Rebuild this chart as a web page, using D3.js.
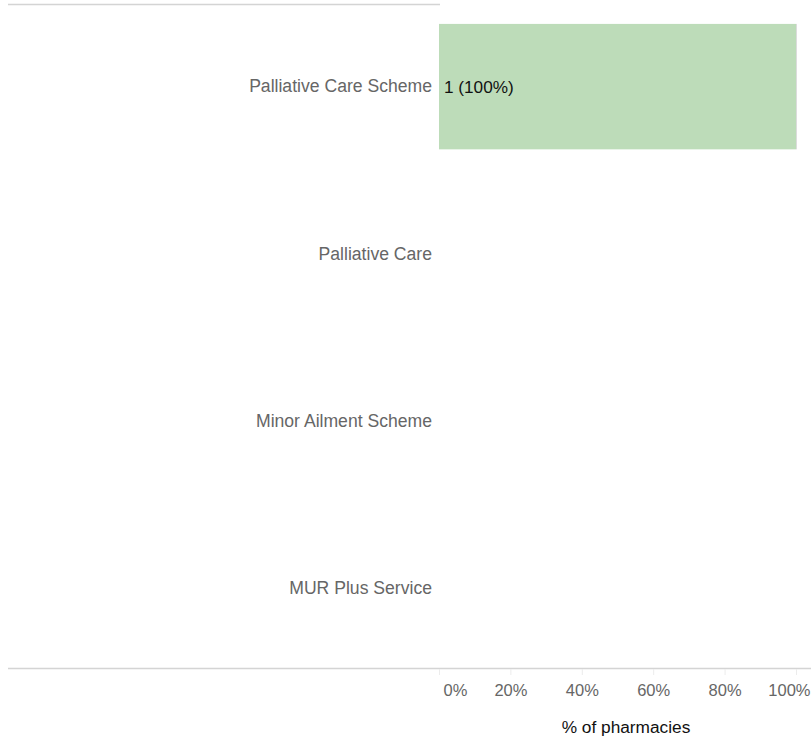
<!DOCTYPE html>
<html>
<head>
<meta charset="utf-8">
<script src="https://cdn.jsdelivr.net/npm/d3@7"></script>
<style>
  html, body { margin: 0; padding: 0; background: #fff; }
  svg { display: block; font-family: "Liberation Sans", Arial, Helvetica, sans-serif; }
</style>
</head>
<body>
<svg id="chart" width="811" height="736"></svg>
<script>
// Services offered, top to bottom
const categories = ["Palliative Care Scheme", "Palliative Care", "Minor Ailment Scheme", "MUR Plus Service"];
// Number of pharmacies offering each service
const counts = [1, 0, 0, 0];
// Share of pharmacies (percent)
const shares = [100, 0, 0, 0];
const tickValues = [0, 20, 40, 60, 80, 100];
const axisTitle = "% of pharmacies";

const W = 811, H = 736;
const margin = { left: 439, right: 15, top: 4, bottom: 68 };
const svg = d3.select("#chart");

const x = d3.scaleLinear().domain([0, 100]).range([margin.left, W - margin.right]);
const y = d3.scaleBand().domain(categories).range([3, 672]).paddingInner(0.25).paddingOuter(0.125);

// Frame lines above and below the plot
svg.append("line").attr("x1", 8).attr("x2", margin.left + 1)
  .attr("y1", margin.top + 0.5).attr("y2", margin.top + 0.5)
  .attr("stroke", "#d4d4d4").attr("stroke-width", 1.5);
svg.append("line").attr("x1", 8).attr("x2", W)
  .attr("y1", H - margin.bottom + 0.5).attr("y2", H - margin.bottom + 0.5)
  .attr("stroke", "#d4d4d4").attr("stroke-width", 1.5);

// Bars
const rows = categories.map((c, i) => ({ c, n: counts[i], p: shares[i] }));
svg.append("g").selectAll("rect").data(rows.filter(d => d.p > 0)).join("rect")
  .attr("x", x(0)).attr("y", d => y(d.c))
  .attr("width", d => x(d.p) - x(0)).attr("height", y.bandwidth())
  .attr("fill", "#bddcb9");
// thin edge on the bar's far end
svg.append("g").selectAll("line").data(rows.filter(d => d.p > 0)).join("line")
  .attr("x1", d => x(d.p) + 0.5).attr("x2", d => x(d.p) + 0.5)
  .attr("y1", d => y(d.c)).attr("y2", d => y(d.c) + y.bandwidth())
  .attr("stroke", "#dcdcdc").attr("stroke-width", 1);

// Value labels
svg.append("g").selectAll("text").data(rows.filter(d => d.p > 0)).join("text")
  .attr("x", x(0) + 5).attr("y", d => y(d.c) + y.bandwidth() / 2)
  .attr("dy", "0.35em").attr("font-size", 17.2).attr("fill", "#111")
  .text(d => `${d.n} (${d.p}%)`);

// Category axis
const yAxis = svg.append("g").attr("transform", `translate(${margin.left},0)`)
  .call(d3.axisLeft(y).tickSize(0).tickPadding(7));
yAxis.select(".domain").remove();
yAxis.selectAll("text").attr("font-size", 17.6).attr("fill", "#666").attr("font-family", null);

// Value axis
const xAxis = svg.append("g").attr("transform", `translate(0,${H - margin.bottom + 1})`)
  .call(d3.axisBottom(x).tickValues(tickValues).tickFormat(d => d + "%").tickSize(6).tickPadding(9));
xAxis.select(".domain").remove();
xAxis.selectAll(".tick line").attr("stroke", "#ececec");
xAxis.selectAll(".tick text").attr("font-size", 16.5).attr("fill", "#666").attr("font-family", null)
  .attr("text-anchor", (d, i, n) => i === 0 ? "start" : i === n.length - 1 ? "end" : "middle")
  .attr("x", (d, i, n) => i === 0 ? 4 : i === n.length - 1 ? (W - 1) - x(d) : 0);

svg.append("text").attr("x", 626).attr("y", 733)
  .attr("text-anchor", "middle").attr("font-size", 17.3).attr("fill", "#111")
  .text(axisTitle);
</script>
</body>
</html>
